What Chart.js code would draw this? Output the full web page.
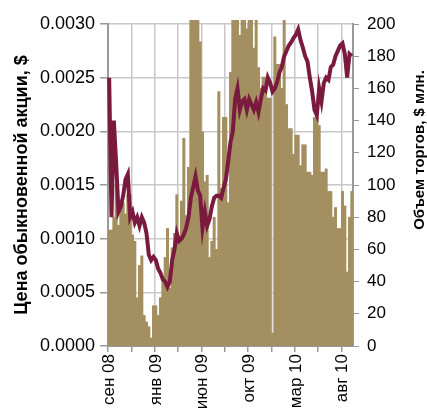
<!DOCTYPE html>
<html>
<head>
<meta charset="utf-8">
<script src="https://cdn.jsdelivr.net/npm/chart.js@4.4.1/dist/chart.umd.min.js"></script>
<style>
html,body{margin:0;padding:0;background:#fff;}
#wrap{width:427px;height:412px;position:relative;}
</style>
</head>
<body>
<div id="wrap"><canvas id="c" width="427" height="412"></canvas></div>
<script>
// Weekly observations, starting first week of Sep 2008
const tickLabels = ['сен 08','янв 09','июн 09','окт 09','мар 10','авг 10'];
const labelEvery = 20;   // weeks between labelled ticks
const tickEvery = 10;    // weeks between tick marks

const priceUSD = [
0.0025,0.0012,0.0021,0.0017,0.00125,0.0013,0.0014,0.00155,0.0016,0.0012,
0.00125,0.00115,0.0012,0.00112,0.0012,0.00115,0.00105,0.00085,0.0008,0.00083,
0.0008,0.00072,0.00068,0.00062,0.0006,0.00055,0.0006,0.0008,0.0009,0.00105,
0.00098,0.001,0.00104,0.0011,0.0012,0.00138,0.00148,0.00158,0.00145,0.0014,
0.0011,0.00125,0.00112,0.00118,0.0013,0.00138,0.0014,0.0014,0.00138,0.00147,
0.00155,0.00172,0.0019,0.002,0.0023,0.0024,0.0022,0.00228,0.0023,0.0022,
0.0023,0.00225,0.0022,0.00227,0.00218,0.0023,0.0024,0.00238,0.0025,0.00245,
0.00237,0.0024,0.00246,0.00255,0.0026,0.0027,0.00275,0.0028,0.00283,0.00287,
0.0029,0.00295,0.00285,0.00278,0.0027,0.00265,0.0025,0.00237,0.0022,0.00215,
0.0024,0.00228,0.00245,0.0025,0.00248,0.0026,0.00262,0.0027,0.00275,0.0028,
0.00282,0.00272,0.0025,0.00272,0.0027
];

const volumeMln = [
72,72,80,100,75,89,89,82,94,94,
69,65,30,50,56,19,15,12,5,25,
25,19,30,42,55,73,36,61,70,94,
65,90,129,81,111,205,205,205,205,189,
133,102,106,55,65,80,60,158,98,142,
142,89,170,205,205,205,193,205,205,197,
205,205,185,205,173,160,167,167,154,154,
8,192,175,175,160,205,150,135,135,119,
131,131,112,125,125,108,108,106,142,142,
137,108,108,110,96,96,80,86,73,73,
96,87,46,80,96
];

const weeks = volumeMln.map((v, i) => i % labelEvery === 0 ? (tickLabels[i / labelEvery] || '') : '');

const FONT = '"Liberation Sans", Arial, sans-serif';
const rightTitle = {
  id: 'rightTitle',
  afterDraw(chart) {
    const ctx = chart.ctx;
    ctx.save();
    ctx.translate(420, 150);
    ctx.rotate(-Math.PI / 2);
    ctx.font = 'bold 15px ' + FONT;
    ctx.fillStyle = '#000';
    ctx.textAlign = 'center';
    ctx.textBaseline = 'middle';
    ctx.fillText('Объем торгов, $ млн.', 0, 0);
    ctx.restore();
  }
};

new Chart(document.getElementById('c'), {
  type: 'bar',
  data: {
    labels: weeks,
    datasets: [
      {
        type: 'line',
        label: 'Цена',
        data: priceUSD,
        yAxisID: 'yPrice',
        borderColor: '#7A1A3E',
        borderWidth: 4,
        pointRadius: 0,
        tension: 0,
        order: 1
      },
      {
        type: 'bar',
        label: 'Объем',
        data: volumeMln,
        yAxisID: 'yVol',
        backgroundColor: '#A38F60',
        borderWidth: 0,
        barPercentage: 1,
        categoryPercentage: 1,
        clip: {left: 0, top: 4, right: 0, bottom: 0},
        order: 2
      }
    ]
  },
  options: {
    responsive: false,
    animation: false,
    devicePixelRatio: 1,
    layout: {padding: {top: 24, left: 0, right: 0, bottom: 0}},
    plugins: {legend: {display: false}, tooltip: {enabled: false}},
    scales: {
      x: {
        offset: true,
        grid: {
          offset: true,
          color: c => (c.index % tickEvery === 0 ? '#c8c8c8' : 'rgba(0,0,0,0)'),
          tickColor: c => (c.index % tickEvery === 0 ? '#999' : 'rgba(0,0,0,0)'),
          lineWidth: 1.5,
          tickLength: 6
        },
        border: {color: '#999', width: 2},
        ticks: {
          autoSkip: false,
          minRotation: 90,
          maxRotation: 90,
          color: '#000',
          padding: 2,
          font: {family: FONT, size: 17}
        },
        afterFit: s => { s.height = 66; }
      },
      yPrice: {
        position: 'left',
        min: 0,
        max: 0.003,
        grid: {color: '#c8c8c8', lineWidth: 1.5, tickColor: '#999', tickLength: 8},
        border: {color: '#999', width: 2},
        ticks: {
          stepSize: 0.0005,
          color: '#000',
          padding: 5,
          font: {family: FONT, size: 18},
          callback: v => Number(v).toFixed(4)
        },
        title: {
          display: true,
          text: 'Цена обыкновенной акции, $',
          color: '#000',
          font: {family: FONT, size: 18, weight: 'bold'},
          padding: {top: 11, bottom: 0}
        },
        afterFit: s => { s.width = 108; }
      },
      yVol: {
        position: 'right',
        min: 0,
        max: 200,
        grid: {drawOnChartArea: false, tickColor: '#999', tickLength: 6},
        border: {color: '#999', width: 2},
        ticks: {
          stepSize: 20,
          color: '#000',
          padding: 8,
          font: {family: FONT, size: 17}
        },
        afterFit: s => { s.width = 74; }
      }
    }
  },
  plugins: [rightTitle]
});
</script>
</body>
</html>
